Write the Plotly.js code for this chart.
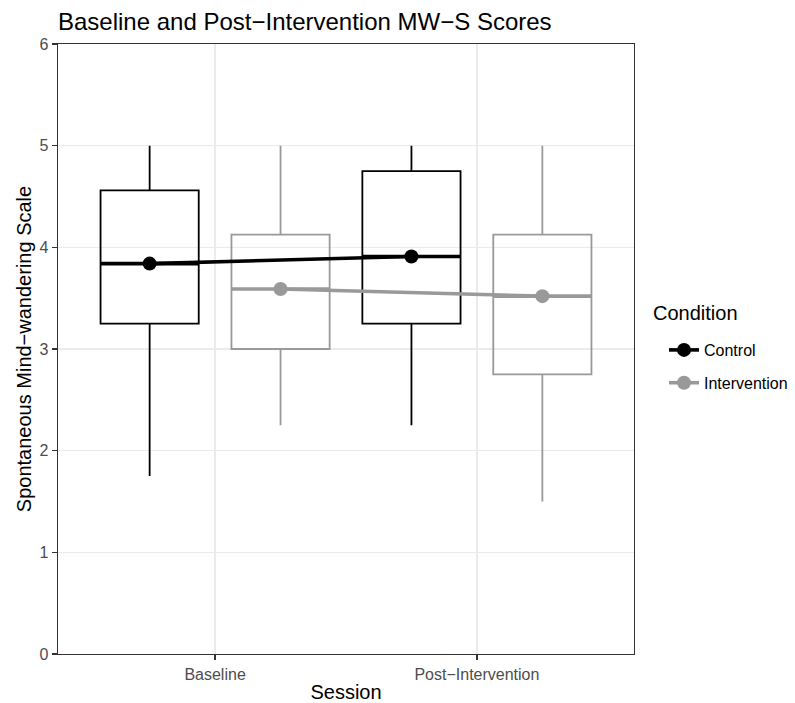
<!DOCTYPE html>
<html>
<head>
<meta charset="utf-8">
<script src="https://cdn.plot.ly/plotly-3.0.1.min.js"></script>
<style>
  html, body { margin: 0; padding: 0; background: #ffffff; }
  #chart { width: 795px; height: 703px; }
</style>
</head>
<body>
<div id="chart"></div>
<script>
// Sessions on the x axis and the two study conditions
const sessions = ['Baseline', 'Post\u2212Intervention'];
const conditions = ['Control', 'Intervention'];

// Box statistics per session (Baseline, Post-Intervention)
const controlLower  = [1.75, 2.25];
const controlQ1     = [3.25, 3.25];
const controlMedian = [3.84, 3.91];
const controlQ3     = [4.56, 4.75];
const controlUpper  = [5.0, 5.0];
const controlMean   = [3.84, 3.91];

const interventionLower  = [2.25, 1.5];
const interventionQ1     = [3.0, 2.75];
const interventionMedian = [3.59, 3.52];
const interventionQ3     = [4.125, 4.125];
const interventionUpper  = [5.0, 5.0];
const interventionMean   = [3.59, 3.52];

const colors = { Control: '#000000', Intervention: '#999999' };

const dodge = 0.25;     // offset of each condition from the session centre
const boxWidth = 0.375; // box width in category units

const sessionPos = sessions.map((s, i) => i + 1);
const posFor = (cond) => sessionPos.map(p => p + (cond === 'Control' ? -dodge : dodge));

const stats = {
  Control: { lo: controlLower, q1: controlQ1, med: controlMedian, q3: controlQ3, hi: controlUpper, mean: controlMean },
  Intervention: { lo: interventionLower, q1: interventionQ1, med: interventionMedian, q3: interventionQ3, hi: interventionUpper, mean: interventionMean }
};

const traces = [];

// Boxes with whiskers (transparent fill)
conditions.forEach(cond => {
  const s = stats[cond];
  traces.push({
    type: 'box',
    x: posFor(cond),
    q1: s.q1, median: s.med, q3: s.q3,
    lowerfence: s.lo, upperfence: s.hi,
    width: boxWidth,
    whiskerwidth: 0,
    fillcolor: 'rgba(0,0,0,0)',
    line: { color: colors[cond], width: 1.8 },
    boxpoints: false,
    showlegend: false,
    hoverinfo: 'skip'
  });
});

// Thick median bars
conditions.forEach(cond => {
  const s = stats[cond];
  posFor(cond).forEach((p, i) => {
    traces.push({
      type: 'scatter', mode: 'lines',
      x: [p - boxWidth / 2, p + boxWidth / 2],
      y: [s.med[i], s.med[i]],
      line: { color: colors[cond], width: 3.6 },
      showlegend: false, hoverinfo: 'skip'
    });
  });
});

// Mean trajectories with points
conditions.forEach(cond => {
  const s = stats[cond];
  traces.push({
    type: 'scatter', mode: 'lines+markers',
    name: cond,
    legendgroup: cond,
    x: posFor(cond),
    y: s.mean,
    line: { color: colors[cond], width: 3.6 },
    marker: { color: colors[cond], size: 14 },
    hoverinfo: 'skip'
  });
});

const PLOT_L = 58, PLOT_R = 634, PLOT_T = 44, PLOT_B = 654;
const W = 795, H = 703;
const pxToPaperX = (px) => (px - PLOT_L) / (PLOT_R - PLOT_L);
const pxToPaperY = (py) => (PLOT_B - py) / (PLOT_B - PLOT_T);

const layout = {
  width: W, height: H,
  paper_bgcolor: '#ffffff',
  plot_bgcolor: '#ffffff',
  margin: { l: PLOT_L, r: W - PLOT_R, t: PLOT_T, b: H - PLOT_B, pad: 0, autoexpand: false },
  font: { family: 'Liberation Sans, Arial, sans-serif', color: '#000000' },
  title: {
    text: 'Baseline and Post\u2212Intervention MW\u2212S Scores',
    font: { size: 24, color: '#000000' },
    xref: 'paper', x: 0, xanchor: 'left',
    yref: 'container', y: 1 - 22 / H, yanchor: 'middle'
  },
  xaxis: {
    range: [0.4, 2.6],
    tickvals: sessionPos,
    ticktext: sessions,
    tickfont: { size: 16, color: '#4D4D4D' },
    ticks: 'outside', ticklen: 5, tickcolor: '#333333', tickwidth: 1.3,
    showline: true, linecolor: '#333333', linewidth: 1.3, mirror: true,
    showgrid: true, gridcolor: '#EBEBEB', gridwidth: 1.6,
    zeroline: false,
    title: { text: 'Session', font: { size: 20, color: '#000000' }, standoff: 6 }
  },
  yaxis: {
    range: [0, 6],
    tickvals: [0, 1, 2, 3, 4, 5, 6],
    tickfont: { size: 16, color: '#4D4D4D' },
    ticks: 'outside', ticklen: 5, tickcolor: '#333333', tickwidth: 1.3,
    showline: true, linecolor: '#333333', linewidth: 1.3, mirror: true,
    showgrid: true, gridcolor: '#EBEBEB', gridwidth: 1.6,
    zeroline: false,
    title: { text: 'Spontaneous Mind\u2212wandering Scale', font: { size: 20, color: '#000000' }, standoff: 2 }
  },
  annotations: [{
    text: 'Condition',
    xref: 'paper', yref: 'paper',
    x: pxToPaperX(651), y: pxToPaperY(313),
    xanchor: 'left', yanchor: 'middle',
    showarrow: false,
    font: { size: 20, color: '#000000' }
  }],
  showlegend: true,
  legend: {
    font: { size: 16, color: '#000000' },
    x: pxToPaperX(664), xanchor: 'left',
    y: pxToPaperY(333), yanchor: 'top',
    bgcolor: 'rgba(0,0,0,0)',
    tracegroupgap: 9
  }
};

Plotly.newPlot('chart', traces, layout, { displayModeBar: false, staticPlot: true });
</script>
</body>
</html>
